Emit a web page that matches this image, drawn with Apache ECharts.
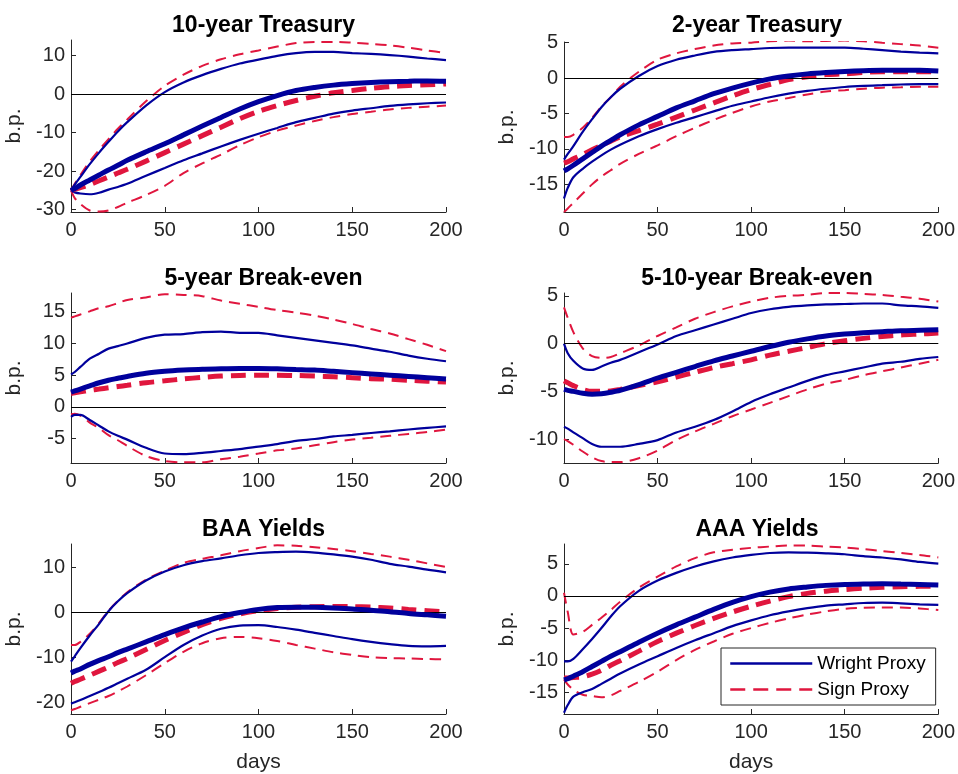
<!DOCTYPE html>
<html><head><meta charset="utf-8">
<script src="https://cdn.jsdelivr.net/npm/echarts@6/dist/echarts.min.js"></script>
<style>html,body{margin:0;padding:0;background:#fff}#c{width:958px;height:774px}</style>
</head><body><div id="c"></div><script>
const days = [0,2,5,10,15,20,25,30,40,50,60,70,80,90,100,110,120,130,140,150,160,170,180,190,200];
const xTicks = [0,50,100,150,200];
const titles = ['10-year Treasury','2-year Treasury','5-year Break-even','5-10-year Break-even','BAA Yields','AAA Yields'];
const yTicks1 = [-30,-20,-10,0,10];
const yTicks2 = [-15,-10,-5,0,5];
const yTicks3 = [-5,0,5,10,15];
const yTicks4 = [-10,-5,0,5];
const yTicks5 = [-20,-10,0,10];
const yTicks6 = [-15,-10,-5,0,5];
const yRange1 = [-30.6,14];
const yRange2 = [-18.9,5.1];
const yRange3 = [-8.9,18];
const yRange4 = [-12.5,5.3];
const yRange5 = [-22.6,15.1];
const yRange6 = [-18.4,8.1];

// 10-year Treasury
const t10_wP = [-25,-24.5,-23.6,-22.3,-21.0,-19.7,-18.5,-17.2,-15.0,-12.9,-10.6,-8.3,-6.1,-3.9,-2.0,-0.4,0.9,1.7,2.3,2.7,3.0,3.2,3.3,3.4,3.3];
const t10_sP = [-25,-24.7,-24.3,-23.5,-22.5,-21.5,-20.5,-19.5,-17.4,-15.2,-13.0,-10.8,-8.6,-6.4,-4.5,-3.0,-1.7,-0.6,0.3,0.9,1.5,1.9,2.2,2.4,2.6];
const t10_wU = [-25,-23.5,-21.5,-18.2,-15.2,-12.4,-9.7,-7.3,-3.0,0.5,3.0,4.9,6.5,7.9,8.9,9.9,10.6,10.9,10.9,10.6,10.4,10.1,9.7,9.2,8.8];
const t10_sU = [-25,-23.3,-21.0,-17.5,-14.5,-11.7,-9.0,-6.6,-1.9,2.1,5.0,7.3,9.0,10.3,11.3,12.3,13.2,13.5,13.5,13.3,13.0,12.6,12.0,11.3,10.6];
const t10_wL = [-25,-25.5,-25.8,-26.0,-25.6,-24.8,-24.1,-23.3,-21.2,-19.2,-17.2,-15.4,-13.6,-11.9,-10.3,-8.8,-7.3,-6.2,-5.1,-4.3,-3.7,-3.1,-2.7,-2.4,-2.2];
const t10_sL = [-25,-27.0,-28.5,-30.2,-30.5,-30.2,-29.3,-28.2,-26.2,-23.8,-20.5,-18.0,-15.7,-13.3,-11.2,-9.5,-8.2,-7.0,-6.0,-5.2,-4.6,-4.0,-3.6,-3.3,-3.0];

// 2-year Treasury
const t2_wP = [-13.1,-12.8,-12.3,-11.4,-10.5,-9.6,-8.8,-8.0,-6.6,-5.4,-4.2,-3.2,-2.2,-1.4,-0.7,-0.1,0.3,0.6,0.8,0.95,1.05,1.1,1.1,1.1,1.0];
const t2_sP = [-12.0,-11.8,-11.4,-10.8,-10.1,-9.5,-8.9,-8.3,-7.4,-6.5,-5.5,-4.5,-3.5,-2.5,-1.6,-0.9,-0.2,0.2,0.5,0.6,0.8,0.9,0.9,0.9,0.9];
const t2_wU = [-11.5,-10.7,-9.6,-7.6,-5.8,-4.1,-2.7,-1.5,0.3,1.7,2.6,3.2,3.7,3.95,4.1,4.25,4.3,4.3,4.3,4.3,4.15,3.95,3.75,3.6,3.5];
const t2_sU = [-8.3,-8.3,-8.0,-7.0,-5.6,-4.0,-2.7,-1.2,0.9,2.6,3.5,4.1,4.6,4.9,5.0,5.2,5.3,5.2,5.25,5.3,5.2,5.0,4.8,4.6,4.3];
const t2_wL = [-17,-15.5,-14,-12.8,-11.8,-10.9,-10.1,-9.4,-8.2,-7.2,-6.3,-5.5,-4.7,-3.9,-3.3,-2.7,-2.2,-1.8,-1.5,-1.25,-1.1,-1.0,-0.9,-0.85,-0.85];
const t2_sL = [-18.9,-18.4,-17.6,-16.3,-15.0,-13.9,-13.0,-12.1,-10.7,-9.5,-8.2,-7.0,-5.9,-4.9,-4.0,-3.3,-2.8,-2.3,-1.9,-1.7,-1.5,-1.35,-1.3,-1.2,-1.2];

// 5-year Break-even
const be5_wP = [2.3,2.5,2.8,3.3,3.8,4.2,4.5,4.8,5.3,5.6,5.8,5.95,6.0,6.05,6.05,6.0,5.9,5.8,5.6,5.4,5.2,5.0,4.8,4.6,4.4];
const be5_sP = [2.1,2.2,2.35,2.6,2.8,3.0,3.2,3.4,3.8,4.1,4.4,4.65,4.85,4.95,5.0,5.0,4.95,4.85,4.75,4.6,4.45,4.35,4.2,4.05,3.9];
const be5_wU = [5.1,5.5,6.3,7.6,8.4,9.2,9.6,10.0,10.9,11.4,11.5,11.8,11.9,11.7,11.7,11.3,10.9,10.5,10.1,9.7,9.2,8.7,8.1,7.6,7.2];
const be5_sU = [14.1,14.3,14.6,15.1,15.6,15.9,16.4,16.9,17.3,17.8,17.7,17.5,16.8,16.3,15.8,15.3,14.9,14.4,13.8,13.1,12.3,11.6,10.7,9.8,8.8];
const be5_wL = [-1.6,-1.3,-1.3,-2.1,-3.0,-3.9,-4.6,-5.2,-6.5,-7.4,-7.5,-7.3,-7.0,-6.7,-6.3,-5.9,-5.4,-5.1,-4.7,-4.45,-4.15,-3.9,-3.6,-3.35,-3.1];
const be5_sL = [-1.2,-1.1,-1.4,-2.5,-3.4,-4.5,-5.3,-6.2,-7.8,-8.6,-8.8,-8.8,-8.3,-7.9,-7.4,-6.9,-6.6,-6.1,-5.6,-5.2,-4.9,-4.6,-4.3,-4.0,-3.6];

// 5-10-year Break-even
const be510_wP = [-4.8,-4.9,-5.0,-5.2,-5.3,-5.25,-5.1,-4.9,-4.3,-3.6,-3.0,-2.4,-1.8,-1.3,-0.8,-0.3,0.15,0.5,0.8,1.0,1.15,1.25,1.35,1.4,1.45];
const be510_sP = [-3.9,-4.1,-4.4,-4.8,-5.0,-5.0,-4.95,-4.8,-4.4,-4.0,-3.5,-3.0,-2.5,-2.1,-1.7,-1.2,-0.8,-0.4,0.0,0.3,0.55,0.75,0.9,1.0,1.1];
const be510_wU = [0,-1.0,-1.8,-2.6,-2.75,-2.4,-2.0,-1.7,-0.9,-0.1,0.8,1.4,2.0,2.6,3.2,3.6,3.85,4.0,4.1,4.15,4.2,4.2,4.0,3.9,3.75];
const be510_sU = [3.8,2.7,1.2,-0.5,-1.3,-1.5,-1.4,-1.0,-0.2,0.8,1.7,2.6,3.3,3.9,4.4,4.8,5.0,5.1,5.3,5.3,5.2,5.1,4.9,4.7,4.4];
const be510_wL = [-8.7,-8.9,-9.3,-9.9,-10.5,-10.8,-10.8,-10.8,-10.5,-10.1,-9.3,-8.7,-8.0,-7.1,-6.1,-5.3,-4.6,-3.9,-3.3,-2.9,-2.5,-2.1,-1.9,-1.6,-1.4];
const be510_sL = [-10,-10.2,-10.6,-11.3,-11.9,-12.3,-12.4,-12.4,-12.0,-11.2,-10.1,-9.2,-8.4,-7.6,-6.9,-6.2,-5.5,-4.8,-4.2,-3.8,-3.3,-2.9,-2.5,-2.1,-1.7];

// BAA Yields
const baa_wP = [-13.5,-13.1,-12.6,-11.6,-10.7,-9.9,-9.0,-8.2,-6.6,-5.0,-3.5,-2.2,-1.0,-0.1,0.6,1.0,1.1,1.05,0.9,0.7,0.4,0.1,-0.3,-0.6,-0.9];
const baa_sP = [-15.8,-15.4,-14.9,-14.0,-13.1,-12.2,-11.2,-10.3,-8.3,-6.3,-4.5,-2.8,-1.4,-0.4,0.3,0.8,1.1,1.2,1.25,1.2,1.1,0.9,0.6,0.3,0.0];
const baa_wU = [-11,-9.8,-8.0,-5.2,-2.6,0.2,2.4,4.2,7.0,9.0,10.4,11.3,11.9,12.6,13.1,13.3,13.4,13.2,12.8,12.3,11.6,10.7,10.1,9.4,8.8];
const baa_sU = [-7.3,-7.3,-6.6,-4.8,-2.4,0.3,2.5,4.4,7.2,9.2,10.9,11.8,12.6,13.5,14.2,14.8,14.7,14.4,14.0,13.5,12.9,12.3,11.6,10.8,10.0];
const baa_wL = [-20.3,-20.0,-19.5,-18.6,-17.7,-16.8,-15.8,-14.8,-12.8,-10.0,-7.3,-5.2,-3.7,-3.0,-2.9,-3.3,-3.9,-4.6,-5.3,-6.0,-6.6,-7.1,-7.5,-7.6,-7.5];
const baa_sL = [-21.8,-21.5,-21.0,-20.2,-19.4,-18.6,-17.6,-16.5,-14.0,-11.3,-8.8,-6.9,-5.8,-5.5,-5.8,-6.4,-7.3,-8.1,-8.9,-9.5,-10.0,-10.2,-10.3,-10.4,-10.5];

// AAA Yields
const aaa_wP = [-13.1,-12.9,-12.5,-11.8,-11.0,-10.2,-9.4,-8.7,-7.2,-5.8,-4.5,-3.3,-2.1,-1.0,-0.1,0.6,1.1,1.4,1.65,1.8,1.85,1.9,1.85,1.8,1.7];
const aaa_sP = [-12.8,-12.8,-12.7,-12.6,-12.2,-11.6,-10.8,-10.1,-8.6,-7.1,-5.8,-4.6,-3.5,-2.5,-1.6,-0.8,-0.1,0.4,0.75,1.0,1.2,1.35,1.45,1.5,1.55];
const aaa_wU = [-10.2,-10.2,-9.8,-8.3,-6.7,-5.0,-3.2,-1.6,0.8,2.4,3.6,4.6,5.4,6.0,6.4,6.7,6.8,6.75,6.65,6.5,6.2,6.0,5.7,5.3,5.05];
const aaa_sU = [0.5,-2.5,-6.0,-5.6,-4.5,-3.4,-2.2,-0.9,1.3,3.0,4.6,5.9,6.8,7.2,7.5,7.7,7.85,7.85,7.7,7.55,7.3,7.0,6.7,6.4,6.0];
const aaa_wL = [-18.2,-17.0,-15.7,-15.0,-14.5,-13.7,-12.9,-12.1,-10.7,-9.4,-8.1,-6.9,-5.8,-4.7,-3.8,-3.0,-2.4,-1.9,-1.5,-1.3,-1.1,-1.05,-1.15,-1.3,-1.4];
const aaa_sL = [-13.0,-13.8,-14.6,-15.4,-15.6,-15.8,-15.5,-14.8,-13.4,-11.8,-10.0,-8.4,-7.1,-5.9,-5.0,-4.2,-3.5,-2.9,-2.4,-2.0,-1.85,-1.8,-1.8,-1.95,-2.2];

const BLUE = '#00009c';
const RED = '#e0163e';
const AX = '#262626';
const FONT = '"Liberation Sans", Arial, Helvetica, sans-serif';

const panels = [
  {w:[t10_wP,t10_wU,t10_wL], s:[t10_sP,t10_sU,t10_sL], ticks:yTicks1, range:yRange1},
  {w:[t2_wP,t2_wU,t2_wL], s:[t2_sP,t2_sU,t2_sL], ticks:yTicks2, range:yRange2},
  {w:[be5_wP,be5_wU,be5_wL], s:[be5_sP,be5_sU,be5_sL], ticks:yTicks3, range:yRange3},
  {w:[be510_wP,be510_wU,be510_wL], s:[be510_sP,be510_sU,be510_sL], ticks:yTicks4, range:yRange4},
  {w:[baa_wP,baa_wU,baa_wL], s:[baa_sP,baa_sU,baa_sL], ticks:yTicks5, range:yRange5},
  {w:[aaa_wP,aaa_wU,aaa_wL], s:[aaa_sP,aaa_sU,aaa_sL], ticks:yTicks6, range:yRange6}
];

const grids = [
  {left:71, top:40, width:375, height:172},
  {left:564, top:42, width:376, height:170},
  {left:71, top:293, width:375, height:170},
  {left:564, top:293, width:376, height:170},
  {left:71, top:544, width:375, height:170},
  {left:564, top:544, width:376, height:170}
];
const titleTops = [9, 9, 262, 262, 513, 513];

const pairs = arr => days.map((d,k)=>[d, arr[k]]);

const xAxes = [], yAxes = [], series = [], titleArr = [];
panels.forEach((p,i)=>{
  const g = grids[i];
  titleArr.push({text:titles[i], left:g.left + g.width/2, top:titleTops[i], textAlign:'center',
    textStyle:{fontFamily:FONT, fontSize:23, fontWeight:'bold', color:'#000'}});
  xAxes.push({gridIndex:i, type:'value', min:0, max:200, interval:50,
    axisLine:{show:true, onZero:false, lineStyle:{color:AX, width:1}},
    axisTick:{show:true, inside:true, length:5, lineStyle:{color:AX}},
    axisLabel:{color:AX, fontFamily:FONT, fontSize:20, margin:8},
    splitLine:{show:false},
    name: i>=4 ? 'days' : '', nameLocation:'middle', nameGap:38,
    nameTextStyle:{color:AX, fontFamily:FONT, fontSize:21}});
  yAxes.push({gridIndex:i, type:'value', min:p.range[0], max:p.range[1],
    axisLine:{show:true, onZero:false, lineStyle:{color:AX, width:1}},
    axisTick:{show:true, inside:true, length:5, lineStyle:{color:AX}, customValues:p.ticks},
    axisLabel:{color:AX, fontFamily:FONT, fontSize:20, margin:6, customValues:p.ticks},
    splitLine:{show:false},
    name:'b.p.', nameLocation:'middle', nameGap:46, nameRotate:90,
    nameTextStyle:{color:AX, fontFamily:FONT, fontSize:21}});
  const common = {type:'line', xAxisIndex:i, yAxisIndex:i, symbol:'none', smooth:0.3, animation:false, silent:true};
  series.push(Object.assign({}, common, {name:'sU'+i, data:pairs(p.s[1]), z:2,
    lineStyle:{color:RED, width:2, type:[11,7]},
    markLine:{silent:true, symbol:'none', label:{show:false}, animation:false,
      lineStyle:{color:'#000', width:1, type:'solid'}, data:[{yAxis:0}]}}));
  series.push(Object.assign({}, common, {name:'sL'+i, data:pairs(p.s[2]), z:2,
    lineStyle:{color:RED, width:2, type:[11,7]}}));
  series.push(Object.assign({}, common, {name:'wU'+i, data:pairs(p.w[1]), z:3,
    lineStyle:{color:BLUE, width:2.2}}));
  series.push(Object.assign({}, common, {name:'wL'+i, data:pairs(p.w[2]), z:3,
    lineStyle:{color:BLUE, width:2.2}}));
  series.push(Object.assign({}, common, {name: i===5 ? 'Sign Proxy' : 'sP'+i, data:pairs(p.s[0]), z:4,
    color:RED, lineStyle:{color:RED, width:5, type:[15,8]}}));
  series.push(Object.assign({}, common, {name: i===5 ? 'Wright Proxy' : 'wP'+i, data:pairs(p.w[0]), z:5,
    color:BLUE, lineStyle:{color:BLUE, width:5}}));
});

const chart = echarts.init(document.getElementById('c'), null, {renderer:'canvas'});
chart.setOption({
  backgroundColor:'#fff',
  animation:false,
  title:titleArr,
  grid:grids,
  xAxis:xAxes,
  yAxis:yAxes,
  legend:{data:['Wright Proxy','Sign Proxy'], orient:'vertical', left:721, top:648,
    itemWidth:82, itemHeight:14, itemGap:7, padding:[6,10,6,8],
    backgroundColor:'#fff', borderColor:AX, borderWidth:1,
    itemStyle:{opacity:0},
    lineStyle:{width:2.5},
    textStyle:{color:'#000', fontFamily:FONT, fontSize:19}, selectedMode:false},
  series:series
});
</script></body></html>
